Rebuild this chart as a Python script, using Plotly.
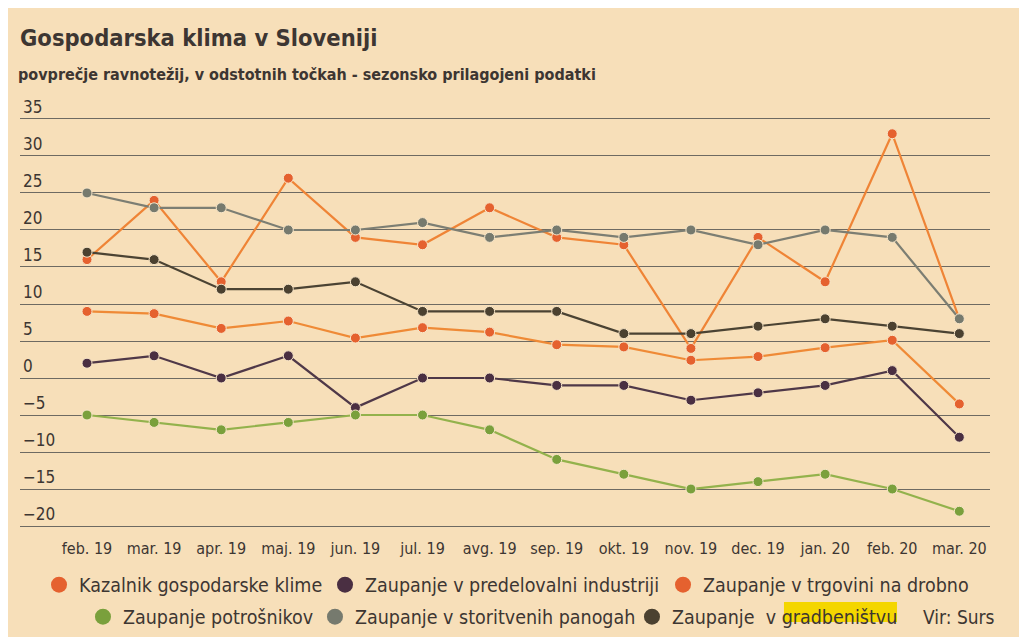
import plotly.graph_objects as go

months = ["feb. 19", "mar. 19", "apr. 19", "maj. 19", "jun. 19", "jul. 19", "avg. 19",
          "sep. 19", "okt. 19", "nov. 19", "dec. 19", "jan. 20", "feb. 20", "mar. 20"]

kazalnik = [9.0, 8.7, 6.7, 7.7, 5.4, 6.8, 6.2, 4.5, 4.2, 2.4, 2.9, 4.1, 5.1, -3.5]
predelovalna = [2, 3, 0, 3, -4, 0, 0, -1, -1, -3, -2, -1, 1, -8]
trgovina = [16, 24, 13, 27, 19, 18, 23, 19, 18, 4, 19, 13, 33, 8]
potrosniki = [-5, -6, -7, -6, -5, -5, -7, -11, -13, -15, -14, -13, -15, -18]
storitve = [25, 23, 23, 20, 20, 21, 19, 20, 19, 20, 18, 20, 19, 8]
gradbenistvo = [17, 16, 12, 12, 13, 9, 9, 9, 6, 6, 7, 8, 7, 6]

names = ["Kazalnik gospodarske klime", "Zaupanje v predelovalni industriji",
         "Zaupanje v trgovini na drobno", "Zaupanje potrošnikov",
         "Zaupanje v storitvenih panogah", "Zaupanje  v gradbeništvu"]
y_ticks = [35, 30, 25, 20, 15, 10, 5, 0, -5, -10, -15, -20]

series = [kazalnik, predelovalna, trgovina, potrosniki, storitve, gradbenistvo]
line_colors = ["#ef8a36", "#4f3848", "#ef8436", "#93b24c", "#7c7e73", "#4b4333"]
marker_colors = ["#e5612f", "#4a2f42", "#e5612f", "#7aa03c", "#767a6e", "#4b4130"]
legend_widths = [241, 293, 270, 187, 272, 230]
legend_ids = ["legend", "legend", "legend", "legend2", "legend2", "legend2"]

FONT = "DejaVu Sans Condensed, DejaVu Sans, sans-serif"
TEXT = "#3d3632"
BG = "#f7dfb9"


def f(size, bold=False):
    return dict(family=FONT, size=size, color=TEXT,
                weight="bold" if bold else "normal")


fig = go.Figure()
xs = list(range(len(months)))
for vals, lc, mc in zip(series, line_colors, marker_colors):
    fig.add_trace(go.Scatter(
        x=xs, y=vals, mode="lines+markers",
        line=dict(color=lc, width=2.2),
        marker=dict(color=mc, size=10, line=dict(color="#f9e7c9", width=1)),
        showlegend=False, hoverinfo="skip"))

# legend-only entries (circle swatches)
for name, mc, lw, lid in zip(names, marker_colors, legend_widths, legend_ids):
    fig.add_trace(go.Scatter(
        x=[None], y=[None], mode="markers", name=name,
        marker=dict(color=mc, size=16), legend=lid, legendwidth=lw))

fig.update_layout(
    width=1027, height=637,
    paper_bgcolor=BG, plot_bgcolor=BG,
    margin=dict(l=12, r=45, t=108, b=116, autoexpand=False),
    font=f(18),
    xaxis=dict(
        tickmode="array", tickvals=xs, ticktext=months,
        range=[-0.9985, 13.457], showgrid=False, zeroline=False,
        showline=False, ticks="", ticklabelstandoff=8,
        tickfont=f(16)),
    yaxis=dict(
        range=[-20.4, 35.4], tickvals=y_ticks, showgrid=True,
        gridcolor="#6e6a62", gridwidth=1, zeroline=False, showline=False,
        ticks="", ticklabelposition="inside top", ticklabeloverflow="allow",
        tickfont=f(17)),
    legend=dict(orientation="h", xref="container", yref="container",
                x=0.0302, y=0.0942, xanchor="left", yanchor="middle",
                bgcolor="rgba(0,0,0,0)", font=f(19.5),
                itemclick=False, itemdoubleclick=False),
    legend2=dict(orientation="h", xref="container", yref="container",
                 x=0.073, y=0.0439, xanchor="left", yanchor="middle",
                 bgcolor="rgba(0,0,0,0)", font=f(19.5),
                 itemclick=False, itemdoubleclick=False),
    showlegend=True,
)

# yellow highlight behind "gradbeništvu"
fig.add_shape(type="rect", xref="paper", yref="paper",
              x0=0.7876, x1=0.9041, y0=-0.2252, y1=-0.1768,
              fillcolor="#f4d600", line=dict(width=0), layer="below")

fig.add_annotation(text="Gospodarska klima v Sloveniji", xref="paper", yref="paper",
                   x=-0.00206, y=1.1889, xanchor="left", yanchor="middle", showarrow=False,
                   font=f(23.5, True))
fig.add_annotation(text="povprečje ravnotežij, v odstotnih točkah - sezonsko prilagojeni podatki",
                   xref="paper", yref="paper", x=-0.0041, y=1.0993, xanchor="left",
                   yanchor="middle", showarrow=False, font=f(16, True))
fig.add_annotation(text="Vir: Surs", xref="paper", yref="paper", x=1.0072, y=-0.2130,
                   xanchor="right", yanchor="middle", showarrow=False, font=f(19))

fig.write_html("out.html")
